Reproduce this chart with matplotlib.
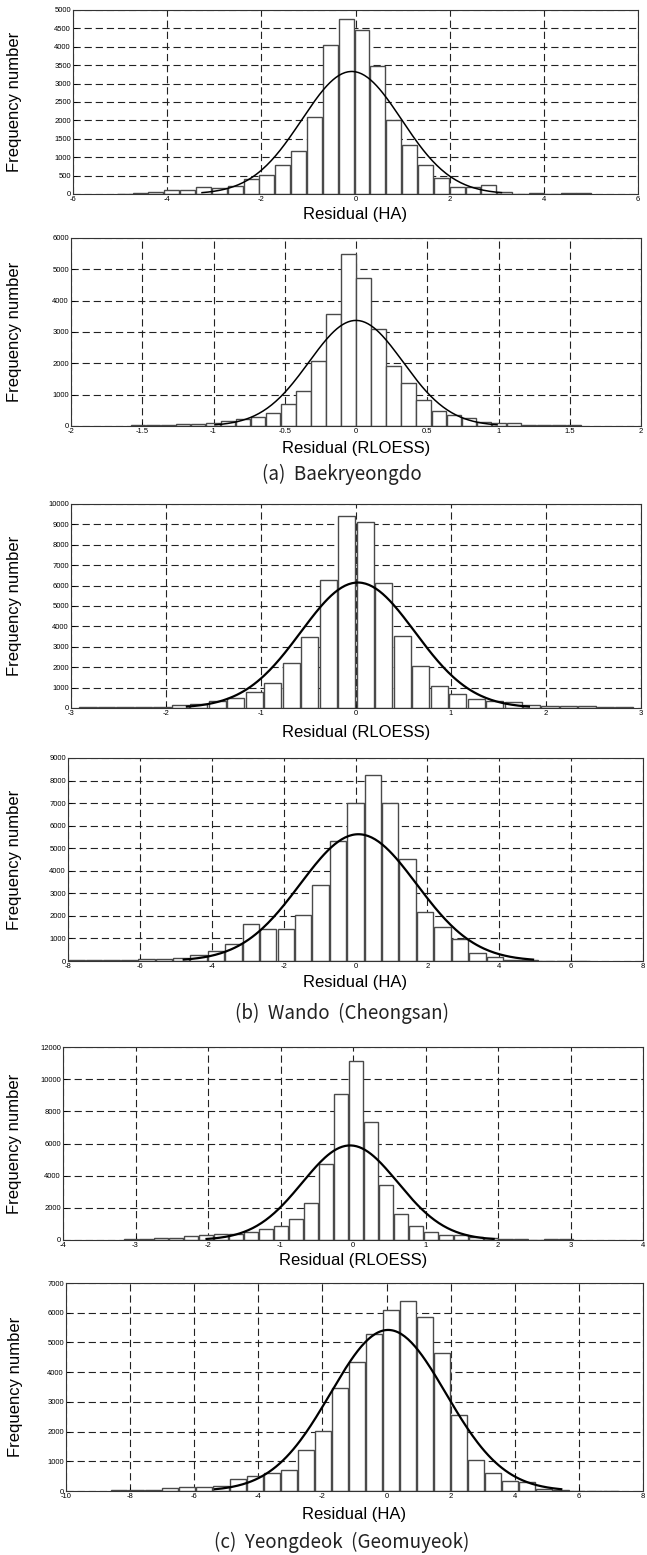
import numpy as np
import matplotlib
matplotlib.use('Agg')
import matplotlib.pyplot as plt

# (a) Baekryeongdo - residual (HA)
a_ha_range = (-5.08, 5.02)
a_ha_counts = [10, 20, 60, 120, 110, 180, 150, 220, 400, 520, 790, 1170, 2090, 4050, 4750,
               4470, 3480, 2020, 1330, 800, 430, 200, 200, 240, 50, 10, 20, 10, 20, 20]
a_ha_fit = (-0.08, 1.06, 3330)   # mean, std, peak of the fitted normal

# (a) Baekryeongdo - residual (RLOESS)
a_rl_range = (-1.58, 1.58)
a_rl_counts = [20, 20, 40, 60, 70, 110, 160, 230, 300, 410, 690, 1130, 2060, 3560, 5500,
               4720, 3090, 1910, 1360, 830, 480, 340, 240, 140, 110, 80, 40, 30, 30, 20]
a_rl_fit = (0.0, 0.33, 3370)

# (b) Wando (Cheongsan) - residual (RLOESS)
b_rl_range = (-2.92, 2.92)
b_rl_counts = [50, 60, 70, 70, 70, 150, 200, 330, 500, 780, 1220, 2200, 3480, 6280, 9400,
               9100, 6120, 3550, 2040, 1100, 680, 420, 340, 270, 150, 100, 100, 100, 70, 50]
b_rl_fit = (0.02, 0.6, 6150)

# (b) Wando (Cheongsan) - residual (HA)
b_ha_range = (-8.0, 6.54)
b_ha_counts = [40, 60, 60, 60, 100, 100, 120, 250, 430, 750, 1620, 1420, 1420, 2020, 3360,
               5330, 7000, 8250, 7000, 4540, 2180, 1520, 980, 360, 160, 60, 60, 15, 10, 10]
b_ha_fit = (0.08, 1.62, 5620)

# (c) Yeongdeok (Geomuyeok) - residual (RLOESS)
c_rl_range = (-3.16, 3.04)
c_rl_counts = [50, 50, 100, 150, 220, 280, 350, 370, 480, 680, 880, 1290, 2330, 4720, 9080,
               11100, 7320, 3420, 1640, 900, 490, 320, 290, 170, 120, 60, 40, 30, 80, 60]
c_rl_fit = (-0.04, 0.66, 5880)

# (c) Yeongdeok (Geomuyeok) - residual (HA)
c_ha_range = (-8.6, 7.28)
c_ha_counts = [30, 30, 50, 90, 130, 130, 180, 400, 500, 620, 710, 1370, 2020, 3460, 4330,
               5290, 6080, 6400, 5870, 4660, 2560, 1040, 590, 330, 300, 60, 20, 0, 0, 15]
c_ha_fit = (0.05, 1.8, 5420)

xlabels = ['Residual (HA)', 'Residual (RLOESS)', 'Residual (RLOESS)',
           'Residual (HA)', 'Residual (RLOESS)', 'Residual (HA)']
captions = ['(a)  Baekryeongdo', '(b)  Wando  (Cheongsan)', '(c)  Yeongdeok  (Geomuyeok)']

W, H = 647, 1555
fig = plt.figure(figsize=(W / 100, H / 100), dpi=100)
plt.rcParams['font.family'] = ['Liberation Sans', 'DejaVu Sans']

# panel boxes in pixels: left, right, top, bottom, xlabel y
boxes = [(73, 638, 10, 194, 215),
         (71, 641, 238, 426, 448),
         (71, 641, 504, 708, 732),
         (68, 643, 758, 961, 983),
         (63, 643, 1047, 1240, 1260),
         (66, 643, 1283, 1491, 1514)]

panels = [
    (a_ha_range, a_ha_counts, a_ha_fit, np.arange(-6, 6.1, 2), np.arange(0, 5001, 500), 1.1),
    (a_rl_range, a_rl_counts, a_rl_fit, np.arange(-2, 2.01, 0.5), np.arange(0, 6001, 1000), 1.1),
    (b_rl_range, b_rl_counts, b_rl_fit, np.arange(-3, 3.1, 1), np.arange(0, 10001, 1000), 1.6),
    (b_ha_range, b_ha_counts, b_ha_fit, np.arange(-8, 8.1, 2), np.arange(0, 9001, 1000), 1.6),
    (c_rl_range, c_rl_counts, c_rl_fit, np.arange(-4, 4.1, 1), np.arange(0, 12001, 2000), 1.6),
    (c_ha_range, c_ha_counts, c_ha_fit, np.arange(-10, 8.1, 2), np.arange(0, 7001, 1000), 1.6),
]

for i, (rng, counts, fit, xt, yt, lw) in enumerate(panels):
    l, r, t, b, xly = boxes[i]
    ax = fig.add_axes([l / W, 1 - b / H, (r - l) / W, (b - t) / H])
    counts = np.array(counts)
    edges = np.linspace(rng[0], rng[1], len(counts) + 1)
    bw = edges[1] - edges[0]
    ax.bar(edges[:-1] + bw / 2, counts, width=bw * 0.94, color='white',
           edgecolor='#4a4a4a', linewidth=1.0, zorder=2)
    mu, sd, peak = fit
    xs = np.linspace(mu - 3 * sd, mu + 3 * sd, 200)
    ax.plot(xs, peak * np.exp(-0.5 * ((xs - mu) / sd) ** 2), color='black', lw=lw, zorder=3)

    ax.set_xlim(xt[0], xt[-1])
    ax.set_ylim(yt[0], yt[-1])
    ax.set_xticks(xt)
    ax.set_xticklabels(['%g' % v for v in xt])
    ax.set_yticks(yt)
    ax.set_yticklabels(['%d' % v for v in yt])
    ax.set_axisbelow(True)
    ax.grid(True, color='#222222', linestyle=(0, (6.5, 3.5)), linewidth=0.8)
    ax.tick_params(direction='in', length=3, width=0.6, labelsize=5.5, pad=1.5)
    for s in ax.spines.values():
        s.set_linewidth(0.8)
        s.set_color('#333333')

    ax.set_xlabel(xlabels[i], fontsize=12, va='center')
    ax.xaxis.set_label_coords(0.5, -(xly - b) / (b - t))
    ax.set_ylabel('Frequency number', fontsize=12, va='center')
    ax.yaxis.set_label_coords((15 - l) / (r - l), 0.5)

cap_y = [474, 1013, 1542]
for c, y in zip(captions, cap_y):
    fig.text(342 / W, 1 - y / H, c, ha='center', va='center', fontsize=13.5,
             family=['Noto Sans CJK KR', 'DejaVu Sans'], color='#222222')

fig.savefig('out.png', dpi=100)
